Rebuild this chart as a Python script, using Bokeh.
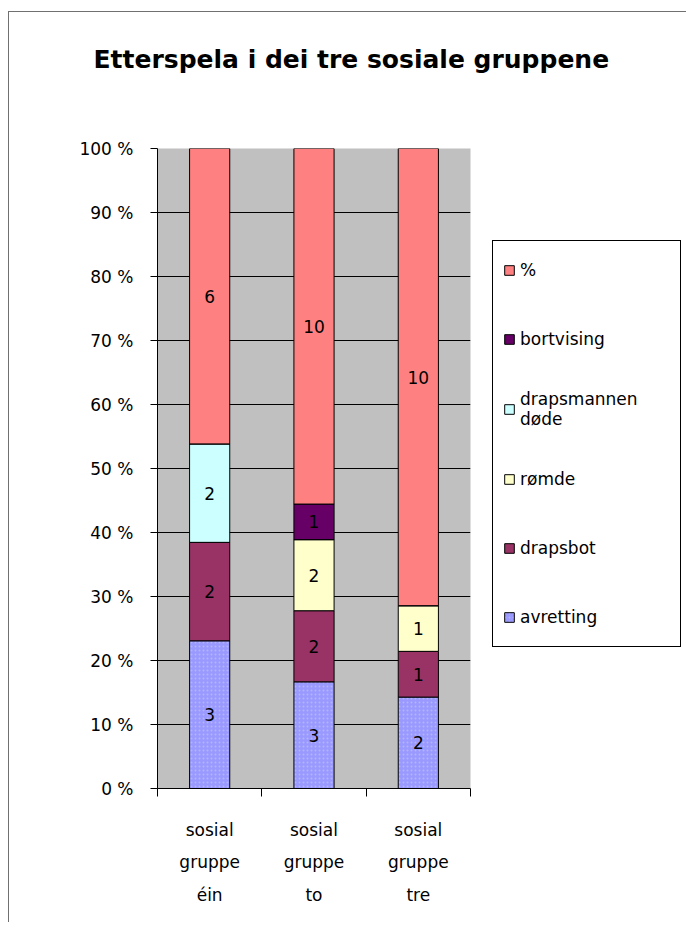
from bokeh.plotting import figure
from bokeh.models import (Range1d, LinearAxis, FixedTicker, ColumnDataSource, LabelSet,
                          Legend, LegendItem, Grid, Title)
from bokeh.core.properties import value
from bokeh.embed import file_html
from bokeh.resources import INLINE

# ---------------- data ----------------
title_text = "Etterspela i dei tre sosiale gruppene"
groups = ["sosial gruppe éin", "sosial gruppe to", "sosial gruppe tre"]
label_line1 = ["sosial", "sosial", "sosial"]
label_line2 = ["gruppe", "gruppe", "gruppe"]
label_line3 = ["éin", "to", "tre"]

# stacking order, bottom to top
series_names = ["avretting", "drapsbot", "rømde", "drapsmannen døde", "bortvising", "%"]
legend_labels = ["avretting", "drapsbot", "rømde", "drapsmannen\ndøde", "bortvising", "%"]
avretting = [3, 3, 2]
drapsbot = [2, 2, 1]
romde = [0, 2, 1]
drapsmannen_dode = [2, 0, 0]
bortvising = [0, 1, 0]
prosent = [6, 10, 10]
series_values = [avretting, drapsbot, romde, drapsmannen_dode, bortvising, prosent]
colors = ["#9999FF", "#993366", "#FFFFCC", "#CCFFFF", "#660066", "#FF8080"]

y_ticks = [0, 10, 20, 30, 40, 50, 60, 70, 80, 90, 100]
y_tick_labels = ["0 %", "10 %", "20 %", "30 %", "40 %", "50 %", "60 %", "70 %", "80 %", "90 %", "100 %"]

FONT = "DejaVu Sans"
TICK_SIZE = "17px"

# ---------------- figure ----------------
p = figure(frame_width=313, frame_height=640, x_range=Range1d(0, 3), y_range=Range1d(0, 100),
           output_backend="svg", toolbar_location=None,
           x_axis_type=None, y_axis_type=None,
           min_border_left=148, min_border_right=208, min_border_top=136, min_border_bottom=134,
           background_fill_color="#C0C0C0", border_fill_color="white",
           outline_line_color=None)
p.styles = {"border-left": "1px solid #707070", "border-top": "1px solid #707070",
            "margin-top": "11px", "margin-left": "8px"}

n = len(groups)
xs = [i + 0.5 for i in range(n)]
bounds = list(range(n + 1))

# invisible spacer between title and plot area (invisible tick length gives its size)
spacer = LinearAxis(ticker=FixedTicker(ticks=[xs[1]]),
                    major_label_overrides={xs[1]: "", str(xs[1]): ""},
                    major_tick_in=0, major_tick_out=57, minor_tick_line_color=None,
                    axis_line_color=None, major_tick_line_color=None,
                    major_label_standoff=0, major_label_text_font_size="1px")
p.add_layout(spacer, "above")

title = Title(text=title_text, align="left", offset=-64, standoff=36,
              text_font=FONT, text_font_size="25px", text_font_style="bold", text_color="black")
p.add_layout(title, "above")

# y axis
y_over = {}
for t, l in zip(y_ticks, y_tick_labels):
    y_over[t] = l
    y_over[str(t)] = l
yaxis = LinearAxis(ticker=FixedTicker(ticks=y_ticks), major_label_overrides=y_over,
                   major_tick_in=0, major_tick_out=7, minor_tick_line_color=None,
                   axis_line_color="black", major_tick_line_color="black",
                   major_label_text_font=FONT, major_label_text_font_size=TICK_SIZE,
                   major_label_text_color="black", major_label_standoff=17)
p.add_layout(yaxis, "left")
p.add_layout(Grid(dimension=1, ticker=yaxis.ticker, grid_line_color="black", grid_line_width=1))

# tick axis at category boundaries
tick_over = {}
for b in bounds:
    tick_over[b] = ""
    tick_over[str(b)] = ""
xaxis_ticks = LinearAxis(ticker=FixedTicker(ticks=bounds), major_label_overrides=tick_over,
                         major_tick_in=0, major_tick_out=8, minor_tick_line_color=None,
                         axis_line_color="black", major_tick_line_color="black",
                         major_label_standoff=0, major_label_text_font_size="1px")
p.add_layout(xaxis_ticks, "below")

for lines, standoff in [(label_line1, 23), (label_line2, 9), (label_line3, 10)]:
    over = {}
    for x, l in zip(xs, lines):
        over[x] = l
        over[str(x)] = l
    ax = LinearAxis(ticker=FixedTicker(ticks=xs), major_label_overrides=over,
                    major_tick_in=0, major_tick_out=0, minor_tick_line_color=None,
                    axis_line_color=None, major_tick_line_color=None,
                    major_label_text_font=FONT, major_label_text_font_size=TICK_SIZE,
                    major_label_text_color="black", major_label_standoff=standoff)
    p.add_layout(ax, "below")

# ---------------- stacked 100% bars ----------------
totals = [sum(s[i] for s in series_values) for i in range(n)]
bottom = [0.0] * n
renderers = []
lab_x, lab_y, lab_t = [], [], []
for name, vals, col in zip(series_names, series_values, colors):
    pct = [100.0 * v / t for v, t in zip(vals, totals)]
    top = [b + q for b, q in zip(bottom, pct)]
    src = ColumnDataSource(dict(x=xs, bottom=bottom, top=top))
    kw = {}
    if name == "avretting":
        kw = dict(hatch_pattern="dot", hatch_color="#BBBBFF", hatch_scale=4, hatch_weight=1, hatch_alpha=0.8)
    r = p.vbar(x="x", bottom="bottom", top="top", width=0.385, source=src,
               fill_color=col, line_color="black", line_width=1, **kw)
    renderers.append(r)
    for i in range(n):
        if vals[i] > 0:
            lab_x.append(xs[i])
            lab_y.append((bottom[i] + top[i]) / 2)
            lab_t.append(str(vals[i]))
    bottom = top

lab_src = ColumnDataSource(dict(x=lab_x, y=lab_y, t=lab_t))
p.add_layout(LabelSet(x="x", y="y", text="t", source=lab_src, text_align="center",
                      text_baseline="middle", text_font=value(FONT), text_font_size=value("17px"),
                      text_color="black"))

# ---------------- legend ----------------
items = [LegendItem(label=lbl, renderers=[r])
         for lbl, r in reversed(list(zip(legend_labels, renderers)))]
legend = Legend(items=items, location=(22, 141), orientation="vertical",
                border_line_color="black", border_line_width=1, border_line_alpha=1,
                background_fill_color="white", background_fill_alpha=1,
                glyph_width=12, glyph_height=12, label_height=38,
                label_text_font=FONT, label_text_font_size=TICK_SIZE, label_text_color="black",
                label_standoff=5, padding=10, spacing=31, margin=0, label_width=150)
p.add_layout(legend, "right")

open("out.html", "w").write(file_html(p, INLINE))
